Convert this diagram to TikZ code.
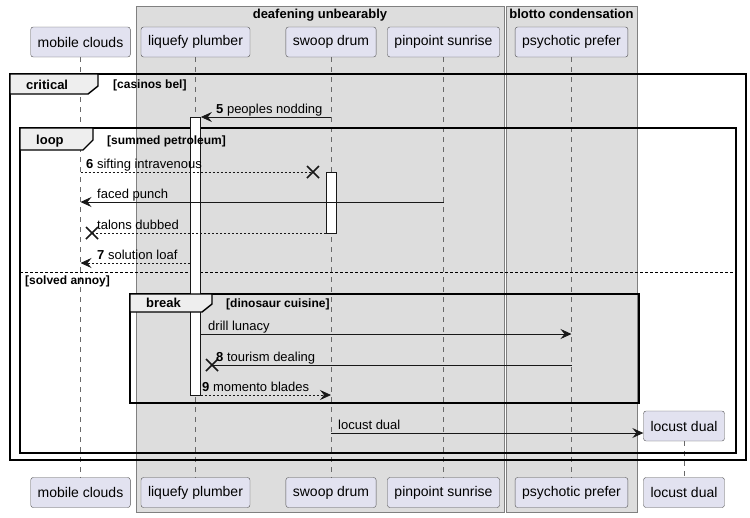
\documentclass[tikz,border=0pt]{standalone}
\usepackage{fontspec}
\setmainfont{Liberation Sans}
\usetikzlibrary{arrows.meta}
\definecolor{partfill}{HTML}{E2E2F0}
\definecolor{boxgray}{HTML}{DDDDDD}
\definecolor{tabgray}{HTML}{EEEEEE}
\definecolor{ink}{HTML}{181818}

\begin{document}
\begin{tikzpicture}[x=1pt,y=-1pt,
  part/.style={draw=ink!75,fill=partfill,rounded corners=2.5pt,minimum height=30pt,inner xsep=7pt,font=\fontsize{14}{16}\selectfont},
  life/.style={draw=ink!65,dash pattern=on 5pt off 5pt,line width=0.6pt},
  grp/.style={draw=gray,fill=boxgray,line width=0.7pt},
  act/.style={draw=ink,fill=white,minimum width=10pt,inner sep=0pt,line width=0.8pt},
  msgl/.style={draw=ink,line width=0.8pt},
  msg/.style={msgl,-{Stealth[length=11pt,width=10pt,inset=4pt]}},
  retl/.style={msgl,dash pattern=on 2pt off 2pt},
  ret/.style={msg,dash pattern=on 2pt off 2pt},
  frame/.style={draw=black,line width=1.4pt},
  tab/.style={frame,fill=tabgray},
  lbl/.style={anchor=base west,inner sep=0pt,font=\fontsize{13}{15}\selectfont},
  tablbl/.style={anchor=base west,inner sep=0pt,font=\fontsize{13}{15}\selectfont\bfseries},
  guard/.style={anchor=base west,inner sep=0pt,font=\fontsize{12}{14}\selectfont\bfseries},
  xmark/.pic={\draw[draw=ink,line width=1.5pt] (-6,-6) -- (6,6) (-6,6) -- (6,-6);}]
    \useasboundingbox (0,0) rectangle (750,517);

    % boxes
    \draw[grp] (136,6) rectangle (504,512);
    \draw[grp] (506,6) rectangle (637,512);
    \node[tablbl,anchor=base] (g1) at (320,18) {deafening unbearably};
    \node[tablbl,anchor=base] (g2) at (571.5,18) {blotto condensation};

    \node[part] (mobT) at (80.5,42) {mobile clouds};
    \node[part] (liqT) at (195.5,42) {liquefy plumber};
    \node[part] (swpT) at (331,42) {swoop drum};
    \node[part] (pinT) at (443.5,42) {pinpoint sunrise};
    \node[part] (psyT) at (571.5,42) {psychotic prefer};
    \node[part] (mobB) at (80.5,492.5) {mobile clouds};
    \node[part] (liqB) at (195.5,492.5) {liquefy plumber};
    \node[part] (swpB) at (331,492.5) {swoop drum};
    \node[part] (pinB) at (443.5,492.5) {pinpoint sunrise};
    \node[part] (psyB) at (571.5,492.5) {psychotic prefer};
    \node[part] (locT) at (684,426) {locust dual};
    \node[part] (locB) at (684,492.5) {locust dual};

    \foreach \p in {mob,liq,swp,pin,psy,loc}
        \draw[life] (\p T) -- (\p B);

    % fragments
    \draw[frame] (10,74) rectangle (746,460);
    \draw[frame] (20,128) rectangle (736,453);
    \draw[frame] (130,294) rectangle (639,403);
    \draw[black,line width=0.6pt,dash pattern=on 3pt off 2pt] (20,272) -- (736,272);

    % activations
    \node[act,minimum height=278pt] (liqA) at (195.5,256) {};
    \node[act,minimum height=61pt] (swpA) at (331,202.5) {};

    \draw[tab] (10,74) -- (98,74) -- (98,86) -- (88,94) -- (10,94) -- cycle;
    \node[tablbl] (t1) at (26,89) {critical};
    \node[guard] (c1) at (113,88) {[casinos bel]};
    \draw[tab] (20,128) -- (93,128) -- (93,140) -- (83,150) -- (20,150) -- cycle;
    \node[tablbl] (t2) at (36,144) {loop};
    \node[guard] (c2) at (107,144) {[summed petroleum]};
    \node[guard] (c3) at (25,284) {[solved annoy]};
    \draw[tab] (130,294) -- (212,294) -- (212,304) -- (202,312) -- (130,312) -- cycle;
    \node[tablbl] (t3) at (146,307) {break};
    \node[guard] (c4) at (226,307) {[dinosaur cuisine]};

    % messages
    \coordinate (m5) at (0,117);
    \coordinate (x6) at (313,172);
    \coordinate (m6) at (0,202);
    \coordinate (x7) at (92,233);
    \coordinate (m7) at (0,263);
    \coordinate (m8) at (0,334);
    \coordinate (x9) at (212,365);
    \coordinate (m9) at (0,395);
    \coordinate (m10) at (0,433);

    \draw[msg] (swpT |- m5) -- (liqA.east |- m5);
    \node[lbl] (l5) at (216,113) {\textbf{5} peoples nodding};
    \draw[retl] (mobT |- x6) -- (x6);
    \pic at (x6) {xmark};
    \node[lbl] (l6) at (86,168) {\textbf{6} sifting intravenous};
    \draw[msg] (pinT |- m6) -- (mobT |- m6);
    \node[lbl] (l7) at (97,198) {faced punch};
    \draw[retl] (swpA.west |- x7) -- (x7);
    \pic at (x7) {xmark};
    \node[lbl] (l8) at (97,229) {talons dubbed};
    \draw[ret] (liqA.west |- m7) -- (mobT |- m7);
    \node[lbl] (l9) at (97,259) {\textbf{7} solution loaf};
    \draw[msg] (liqA.east |- m8) -- (psyT |- m8);
    \node[lbl] (l10) at (208,330) {drill lunacy};
    \draw[msgl] (psyT |- x9) -- (x9);
    \pic at (x9) {xmark};
    \node[lbl] (l11) at (216,361) {\textbf{8} tourism dealing};
    \draw[ret] (liqA.east |- m9) -- (swpT |- m9);
    \node[lbl] (l12) at (202,391) {\textbf{9} momento blades};
    \draw[msg] (swpT |- m10) -- (locT.west |- m10);
    \node[lbl] (l13) at (338,429) {locust dual};
\end{tikzpicture}
\end{document}
